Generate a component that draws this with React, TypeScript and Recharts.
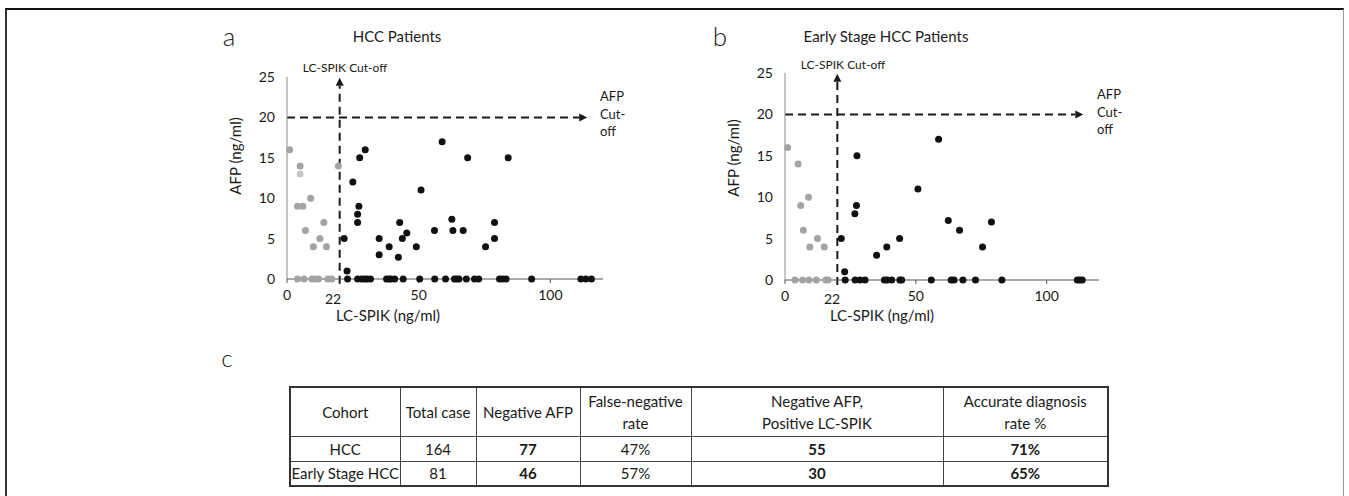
import React from "react";
import {
  ReferenceLine,
  Scatter,
  ScatterChart,
  XAxis,
  YAxis,
} from "recharts";

// ---- panel a: HCC patients (LC-SPIK, AFP) ----
const hccBlack: [number, number][] = [
  [21.7, 5], [22.8, 1], [25, 12], [26.8, 7], [26.8, 8], [27.3, 9], [27.6, 15],
  [29.7, 16], [35, 5], [35, 3], [38.8, 4], [42.3, 2.7], [42.8, 7], [43.8, 5],
  [45.5, 5.7], [49.1, 4], [50.9, 11], [56, 6], [58.9, 17], [62.6, 7.4], [63, 6],
  [66.9, 6], [68.6, 15], [75.4, 4], [78.8, 5], [78.8, 7], [84, 15],
];
const hccBlackZero = [
  23, 26.8, 28.3, 29.5, 30.4, 31.7, 37.8, 38.7, 39.5, 40.9, 44.1, 50.4, 56.1,
  60.2, 63.6, 64.5, 65.3, 68.1, 71.2, 72.8, 80.7, 81.9, 83.2, 92.9, 111.6,
  113.5, 115.6,
];
const hccGray: [number, number][] = [
  [1, 16], [5, 14], [4, 9], [6, 9], [9, 10], [7, 6], [10, 4], [12.5, 5],
  [14, 7], [15, 4], [19.5, 14],
];
const hccGrayZero = [4, 6.5, 9.5, 10.5, 12, 15.5, 17];
const hccLight: [number, number][] = [[5, 13]];

// ---- panel b: early stage HCC patients ----
const earlyBlack: [number, number][] = [
  [21.5, 5], [22.8, 1], [26.7, 8], [27.3, 9], [27.5, 15], [35, 3], [38.9, 4],
  [43.8, 5], [50.8, 11], [58.7, 17], [62.4, 7.2], [66.7, 6], [75.5, 4],
  [78.9, 7],
];
const earlyBlackZero = [
  23, 26.8, 28.7, 30.6, 38, 39, 40.8, 43.9, 44.6, 55.9, 63.5, 64.6, 68, 72.8,
  82.9, 111.7, 112.6, 113.6,
];
const earlyGray: [number, number][] = [
  [1, 16], [5, 14], [6, 9], [9, 10], [7, 6], [9.5, 4], [12.4, 5], [15, 4],
];
const earlyGrayZero = [3.8, 6.7, 9.2, 12, 15.6, 16.5];

const xTicks = [0, 50, 100];
const yTicks = [0, 5, 10, 15, 20, 25];
const LC_CUTOFF = 20;
const AFP_CUTOFF = 20;
const AFP_ARROW_END = 114;

// ---- table c ----
const tableHeader = [
  ["Cohort"],
  ["Total case"],
  ["Negative AFP"],
  ["False-negative", "rate"],
  ["Negative AFP,", "Positive LC-SPIK"],
  ["Accurate diagnosis", "rate %"],
];
const cohorts = ["HCC", "Early Stage HCC"];
const totalCase = [164, 81];
const negativeAfp = [77, 46];
const falseNegRate = ["47%", "57%"];
const negAfpPosSpik = [55, 30];
const accurateRate = ["71%", "65%"];

const FONT = "Lato, 'Open Sans', sans-serif";
const INK = "#1a1a1a";

const pts = (pairs: [number, number][], zeros: number[] = []) => [
  ...pairs.map(([x, y]) => ({ x, y })),
  ...zeros.map((x) => ({ x, y: 0 })),
];

const dot = (color: string) => (p: any) => (
  <circle cx={p.cx} cy={p.cy} r={3.5} fill={color} />
);

// dashed line with a filled arrow head at its end point
const arrow = (p: any) => {
  const { x1, y1, x2, y2 } = p;
  const dx = x2 - x1;
  const dy = y2 - y1;
  const len = Math.hypot(dx, dy) || 1;
  const ux = dx / len;
  const uy = dy / len;
  const head = 8;
  const half = 4;
  const bx = x2 - ux * head;
  const by = y2 - uy * head;
  return (
    <g>
      <line
        x1={x1}
        y1={y1}
        x2={bx}
        y2={by}
        stroke={INK}
        strokeWidth={2}
        strokeDasharray="8 5"
      />
      <polygon
        points={`${x2},${y2} ${bx - uy * half},${by + ux * half} ${bx + uy * half},${by - ux * half}`}
        fill={INK}
      />
    </g>
  );
};

interface PanelProps {
  left: number;
  marginTop: number;
  marginRight: number;
  yAxisWidth: number;
  xAxisHeight: number;
  black: { x: number; y: number }[];
  gray: { x: number; y: number }[];
  light?: { x: number; y: number }[];
}

function Panel({
  left,
  marginTop,
  marginRight,
  yAxisWidth,
  xAxisHeight,
  black,
  gray,
  light,
}: PanelProps) {
  return (
    <div style={{ position: "absolute", left, top: 50 }}>
      <ScatterChart
        width={440}
        height={260}
        margin={{ top: marginTop, right: marginRight, bottom: 0, left: 0 }}
      >
        <XAxis
          type="number"
          dataKey="x"
          domain={[0, 120]}
          ticks={xTicks}
          height={xAxisHeight}
          stroke="#555"
          tickSize={4}
          tickMargin={7}
          tick={{ fontSize: 14, fill: INK, fontFamily: FONT }}
        />
        <YAxis
          type="number"
          dataKey="y"
          domain={[0, 25]}
          ticks={yTicks}
          width={yAxisWidth}
          stroke="#8c8c8c"
          tickLine={false}
          tickMargin={6}
          tick={{ fontSize: 14, fill: INK, fontFamily: FONT }}
        />
        <ReferenceLine
          segment={[
            { x: 0, y: AFP_CUTOFF },
            { x: AFP_ARROW_END, y: AFP_CUTOFF },
          ]}
          ifOverflow="visible"
          shape={arrow}
        />
        <ReferenceLine
          segment={[
            { x: LC_CUTOFF, y: -0.6 },
            { x: LC_CUTOFF, y: 24.9 },
          ]}
          ifOverflow="visible"
          shape={arrow}
        />
        <Scatter data={gray} shape={dot("#a3a3a3")} isAnimationActive={false} />
        {light && (
          <Scatter data={light} shape={dot("#c6c6c6")} isAnimationActive={false} />
        )}
        <Scatter data={black} shape={dot("#111")} isAnimationActive={false} />
      </ScatterChart>
    </div>
  );
}

const txt = (
  x: number,
  y: number,
  content: React.ReactNode,
  size: number,
  extra: React.CSSProperties = {}
) => (
  <div
    style={{
      position: "absolute",
      left: x,
      top: y,
      transform: "translate(-50%, -50%)",
      fontSize: size,
      whiteSpace: "nowrap",
      color: INK,
      ...extra,
    }}
  >
    {content}
  </div>
);

const cutoffNote = (x: number, y: number) => (
  <div
    style={{
      position: "absolute",
      left: x,
      top: y,
      fontSize: 13,
      lineHeight: "17.5px",
      color: INK,
    }}
  >
    AFP
    <br />
    Cut-
    <br />
    off
  </div>
);

const cell: React.CSSProperties = {
  border: "1px solid #444",
  textAlign: "center",
  padding: 0,
};

export default function App() {
  return (
    <div
      style={{
        position: "relative",
        width: 1349,
        height: 496,
        overflow: "hidden",
        background: "#fff",
        fontFamily: FONT,
      }}
    >
      <style>{`body{margin:0}`}</style>
      <div
        style={{
          position: "absolute",
          left: 5,
          top: 8,
          width: 1336,
          height: 500,
          borderTop: "2px solid #111",
          borderLeft: "2px solid #333",
          borderRight: "1px solid #999",
        }}
      />

      {/* panel a */}
      <Panel
        left={200}
        marginTop={27}
        marginRight={37}
        yAxisWidth={87}
        xAxisHeight={31}
        black={pts(hccBlack, hccBlackZero)}
        gray={pts(hccGray, hccGrayZero)}
        light={pts(hccLight)}
      />
      {txt(229, 36, "a", 26, { fontWeight: 300 })}
      {txt(397, 36, "HCC Patients", 15)}
      {txt(345, 67, "LC-SPIK Cut-off", 12)}
      {cutoffNote(600, 88)}
      {txt(333, 298, "22", 14)}
      {txt(388, 315, "LC-SPIK (ng/ml)", 15)}
      {txt(235, 156, "AFP (ng/ml)", 15, {
        transform: "translate(-50%, -50%) rotate(-90deg)",
      })}

      {/* panel b */}
      <Panel
        left={700}
        marginTop={23}
        marginRight={41}
        yAxisWidth={85}
        xAxisHeight={30}
        black={pts(earlyBlack, earlyBlackZero)}
        gray={pts(earlyGray, earlyGrayZero)}
      />
      {txt(720, 36, "b", 26, { fontWeight: 300 })}
      {txt(886, 36, "Early Stage HCC Patients", 15)}
      {txt(843, 64, "LC-SPIK Cut-off", 12)}
      {cutoffNote(1097, 86)}
      {txt(832, 298, "22", 14)}
      {txt(882, 315, "LC-SPIK (ng/ml)", 15)}
      {txt(733, 158, "AFP (ng/ml)", 15, {
        transform: "translate(-50%, -50%) rotate(-90deg)",
      })}

      {/* table c */}
      {txt(227, 357, "c", 24, { fontWeight: 300 })}
      <table
        style={{
          position: "absolute",
          left: 289,
          top: 386,
          width: 818,
          borderCollapse: "collapse",
          border: "2px solid #333",
          fontSize: 15,
          color: INK,
          tableLayout: "fixed",
        }}
      >
        <colgroup>
          {[110, 76, 104, 111, 252, 165].map((w, i) => (
            <col key={i} style={{ width: w }} />
          ))}
        </colgroup>
        <tbody>
          <tr style={{ height: 49 }}>
            {tableHeader.map((lines, i) => (
              <td key={i} style={{ ...cell, lineHeight: "22px" }}>
                {lines.map((l, j) => (
                  <div key={j}>{l}</div>
                ))}
              </td>
            ))}
          </tr>
          {cohorts.map((c, r) => (
            <tr key={c} style={{ height: 25 }}>
              <td style={cell}>{c}</td>
              <td style={cell}>{totalCase[r]}</td>
              <td style={{ ...cell, fontWeight: 700 }}>{negativeAfp[r]}</td>
              <td style={cell}>{falseNegRate[r]}</td>
              <td style={{ ...cell, fontWeight: 700 }}>{negAfpPosSpik[r]}</td>
              <td style={{ ...cell, fontWeight: 700 }}>{accurateRate[r]}</td>
            </tr>
          ))}
        </tbody>
      </table>
    </div>
  );
}
